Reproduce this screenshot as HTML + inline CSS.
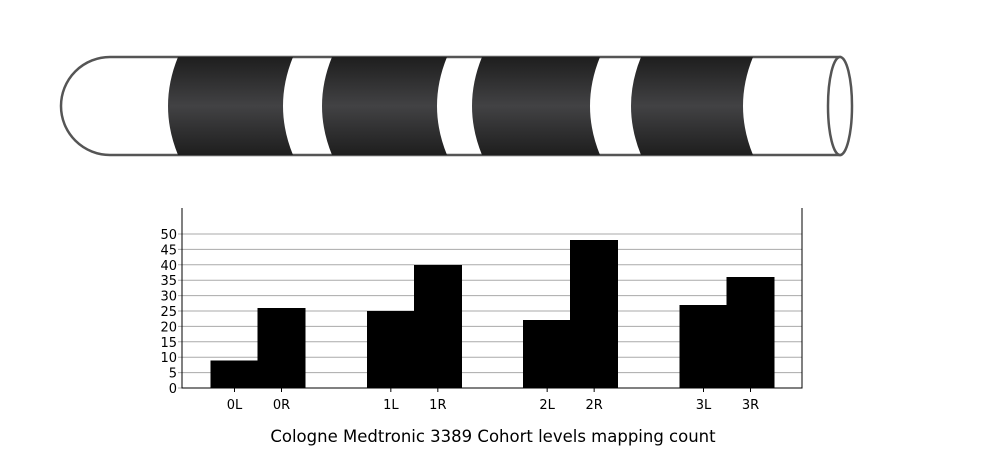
<!DOCTYPE html>
<html><head><meta charset="utf-8"><style>
body{margin:0;background:#fff;width:1000px;height:455px;overflow:hidden;font-family:"DejaVu Sans","Liberation Sans",sans-serif}
</style></head><body>
<svg id="s" width="1000" height="455" xmlns="http://www.w3.org/2000/svg" font-family="DejaVu Sans, Liberation Sans, sans-serif">
<defs><linearGradient id="g" x1="0" y1="0" x2="0" y2="1">
<stop offset="0" stop-color="#1e1e1e"/><stop offset="0.5" stop-color="#424244"/><stop offset="1" stop-color="#1e1e1e"/></linearGradient></defs>
<g>
<path d="M110,57 L840,57 L840,155 L110,155 A49,49 0 0 1 110,57 Z" fill="#fff" stroke="#555" stroke-width="2.5"/>
<g id="bands"></g>
<ellipse cx="840" cy="106" rx="12" ry="49" fill="#fff" stroke="#555" stroke-width="2.5"/>
</g>
<g id="chart"></g>
<text x="493" y="442" font-size="16.5" text-anchor="middle" fill="#000">Cologne Medtronic 3389 Cohort levels mapping count</text>
</svg>
<script>
const categories=["0L","0R","1L","1R","2L","2R","3L","3R"];
const counts=[9,26,25,40,22,48,27,36];
const yTicks=[0,5,10,15,20,25,30,35,40,45,50];
const bandEdges=[[168,283],[322,437],[472,590],[631,743]];
const NS="http://www.w3.org/2000/svg";
function mk(t,a,p){const e=document.createElementNS(NS,t);for(const k in a)e.setAttribute(k,a[k]);p.appendChild(e);return e;}
const bands=document.getElementById('bands');
bandEdges.forEach((b,i)=>{
  const [l,r]=b;
  const p=mk('path',{d:`M${l+10},57 L${r+10},57 Q${r-10},106 ${r+10},155 L${l+10},155 Q${l-10},106 ${l+10},57 Z`,fill:'url(#g)'},bands);
  
  
});
const chart=document.getElementById('chart');
const X0=182,X1=802,Y0=388,YT=208,yMax=58.44;
const y=v=>Y0-v/yMax*(Y0-YT);
const bw=47;
const x=i=>211+Math.floor(i/2)*156.33+(i%2)*bw;
yTicks.forEach(t=>{
  const l=mk('line',{x1:X0-4,x2:X1,y1:y(t),y2:y(t),stroke:'#aaa','stroke-width':1},chart);
  
  
  const tx=mk('text',{x:X0-5,y:y(t)+5,'font-size':13,'text-anchor':'end',fill:'#000'},chart);
  tx.textContent=t;
  
  
});
counts.forEach((v,i)=>{
  const r=mk('rect',{x:x(i)-0.5,y:y(v),width:bw+1,height:Y0-y(v),fill:'#000','shape-rendering':'crispEdges'},chart);
  
  
  const cx=x(i)+bw/2;
  mk('line',{x1:cx,x2:cx,y1:Y0,y2:Y0+4,stroke:'#000'},chart);
  const tx=mk('text',{x:cx,y:Y0+21,'font-size':13,'text-anchor':'middle',fill:'#000'},chart);
  tx.textContent=categories[i];
  
  
});
const ax=mk('path',{d:`M${X0},${YT} L${X0},${Y0} L${X1},${Y0} L${X1},${YT}`,fill:'none',stroke:'#000','stroke-width':1},chart);


</script>
</body></html>
